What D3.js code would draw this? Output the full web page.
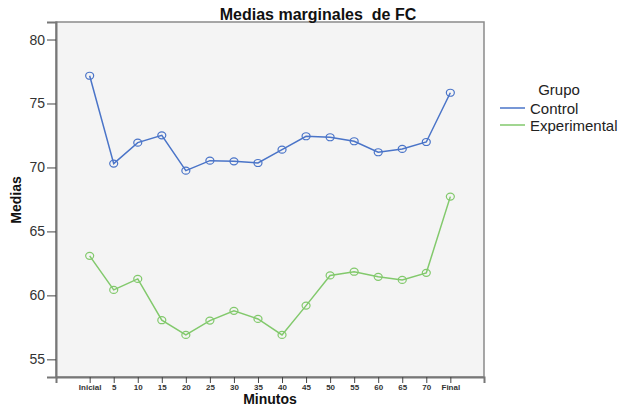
<!DOCTYPE html>
<html>
<head>
<meta charset="utf-8">
<script src="https://cdn.jsdelivr.net/npm/d3@7"></script>
<style>
  body { margin: 0; background: #fff; }
  text { font-family: "Liberation Sans", Arial, sans-serif; }
</style>
</head>
<body>
<svg id="chart" width="619" height="407"></svg>
<script>
// categories (Minutos)
const minutos = ['Inicial', '5', '10', '15', '20', '25', '30', '35', '40', '45', '50', '55', '60', '65', '70', 'Final'];

// marginal means per group
const control = [77.17, 70.30, 71.94, 72.51, 69.75, 70.53, 70.48, 70.35, 71.39, 72.44, 72.36, 72.05, 71.19, 71.45, 71.99, 75.84];
const experimental = [63.09, 60.43, 61.29, 58.06, 56.91, 58.03, 58.79, 58.16, 56.91, 59.20, 61.56, 61.85, 61.45, 61.21, 61.76, 67.72];

const yTicks = [55, 60, 65, 70, 75, 80];

const series = [
  { name: 'Control', values: control, color: '#4a74c8' },
  { name: 'Experimental', values: experimental, color: '#82c96c' }
];

const svg = d3.select('#chart');
const plot = { left: 56, top: 22, right: 484, bottom: 377 };

// plot background
svg.append('rect')
  .attr('x', plot.left)
  .attr('y', plot.top)
  .attr('width', plot.right - plot.left)
  .attr('height', plot.bottom - plot.top)
  .attr('fill', '#f4f4f4')
  .attr('stroke', '#8a8a8a')
  .attr('stroke-width', 1.5);

const xScale = d3.scalePoint()
  .domain(minutos)
  .range([plot.left, plot.right])
  .padding(1.4);

const yScale = d3.scaleLinear()
  .domain([53.62, 81.37])
  .range([plot.bottom, plot.top]);

// Y axis
const yAxis = svg.append('g')
  .attr('transform', `translate(${plot.left}, 0)`)
  .call(d3.axisLeft(yScale).tickValues(yTicks).tickSize(9).tickPadding(2));
yAxis.select('.domain').attr('stroke', '#777').attr('stroke-width', 2);
yAxis.selectAll('.tick line').attr('stroke', '#444');
yAxis.selectAll('.tick text')
  .attr('font-size', 14)
  .attr('fill', '#333')
  .style('font-family', '"Liberation Sans", Arial, sans-serif');

// X axis
const xAxis = svg.append('g')
  .attr('transform', `translate(0, ${plot.bottom})`)
  .call(d3.axisBottom(xScale).tickSize(6).tickPadding(1));
xAxis.select('.domain').attr('stroke', '#777').attr('stroke-width', 2);
xAxis.selectAll('.tick line').attr('stroke', '#444');
xAxis.selectAll('.tick text')
  .attr('font-size', 8)
  .attr('font-weight', 'bold')
  .attr('fill', '#333')
  .style('font-family', '"Liberation Sans", Arial, sans-serif');

// lines + markers
const line = d3.line()
  .x((d, i) => xScale(minutos[i]))
  .y(d => yScale(d));

series.forEach(s => {
  svg.append('path')
    .datum(s.values)
    .attr('fill', 'none')
    .attr('stroke', s.color)
    .attr('stroke-width', 1.5)
    .attr('d', line);

  svg.selectAll(null)
    .data(s.values)
    .enter()
    .append('ellipse')
    .attr('cx', (d, i) => xScale(minutos[i]))
    .attr('cy', d => yScale(d))
    .attr('rx', 4)
    .attr('ry', 3.5)
    .attr('fill', 'none')
    .attr('stroke', s.color)
    .attr('stroke-width', 1.2);
});

// title
svg.append('text')
  .attr('x', 318)
  .attr('y', 20)
  .attr('text-anchor', 'middle')
  .attr('font-size', 16)
  .attr('font-weight', 'bold')
  .attr('fill', '#111')
  .style('white-space', 'pre')
  .text('Medias marginales  de FC');

// axis labels
svg.append('text')
  .attr('x', 270)
  .attr('y', 404)
  .attr('text-anchor', 'middle')
  .attr('font-size', 14)
  .attr('font-weight', 'bold')
  .attr('fill', '#111')
  .text('Minutos');

svg.append('text')
  .attr('transform', 'translate(21, 200) rotate(-90)')
  .attr('text-anchor', 'middle')
  .attr('font-size', 14)
  .attr('font-weight', 'bold')
  .attr('fill', '#111')
  .text('Medias');

// legend
const legend = svg.append('g').attr('transform', 'translate(500, 0)');
legend.append('text')
  .attr('x', 59)
  .attr('y', 95)
  .attr('text-anchor', 'middle')
  .attr('font-size', 15)
  .attr('fill', '#222')
  .text('Grupo');

series.forEach((s, i) => {
  const row = legend.append('g').attr('transform', `translate(0, ${108 + i * 17})`);
  row.append('line')
    .attr('x1', 0).attr('x2', 25)
    .attr('y1', 0).attr('y2', 0)
    .attr('stroke', s.color)
    .attr('stroke-width', 1.5);
  row.append('text')
    .attr('x', 30)
    .attr('y', 5.5)
    .attr('font-size', 15)
    .attr('fill', '#222')
    .text(s.name);
});
</script>
</body>
</html>
